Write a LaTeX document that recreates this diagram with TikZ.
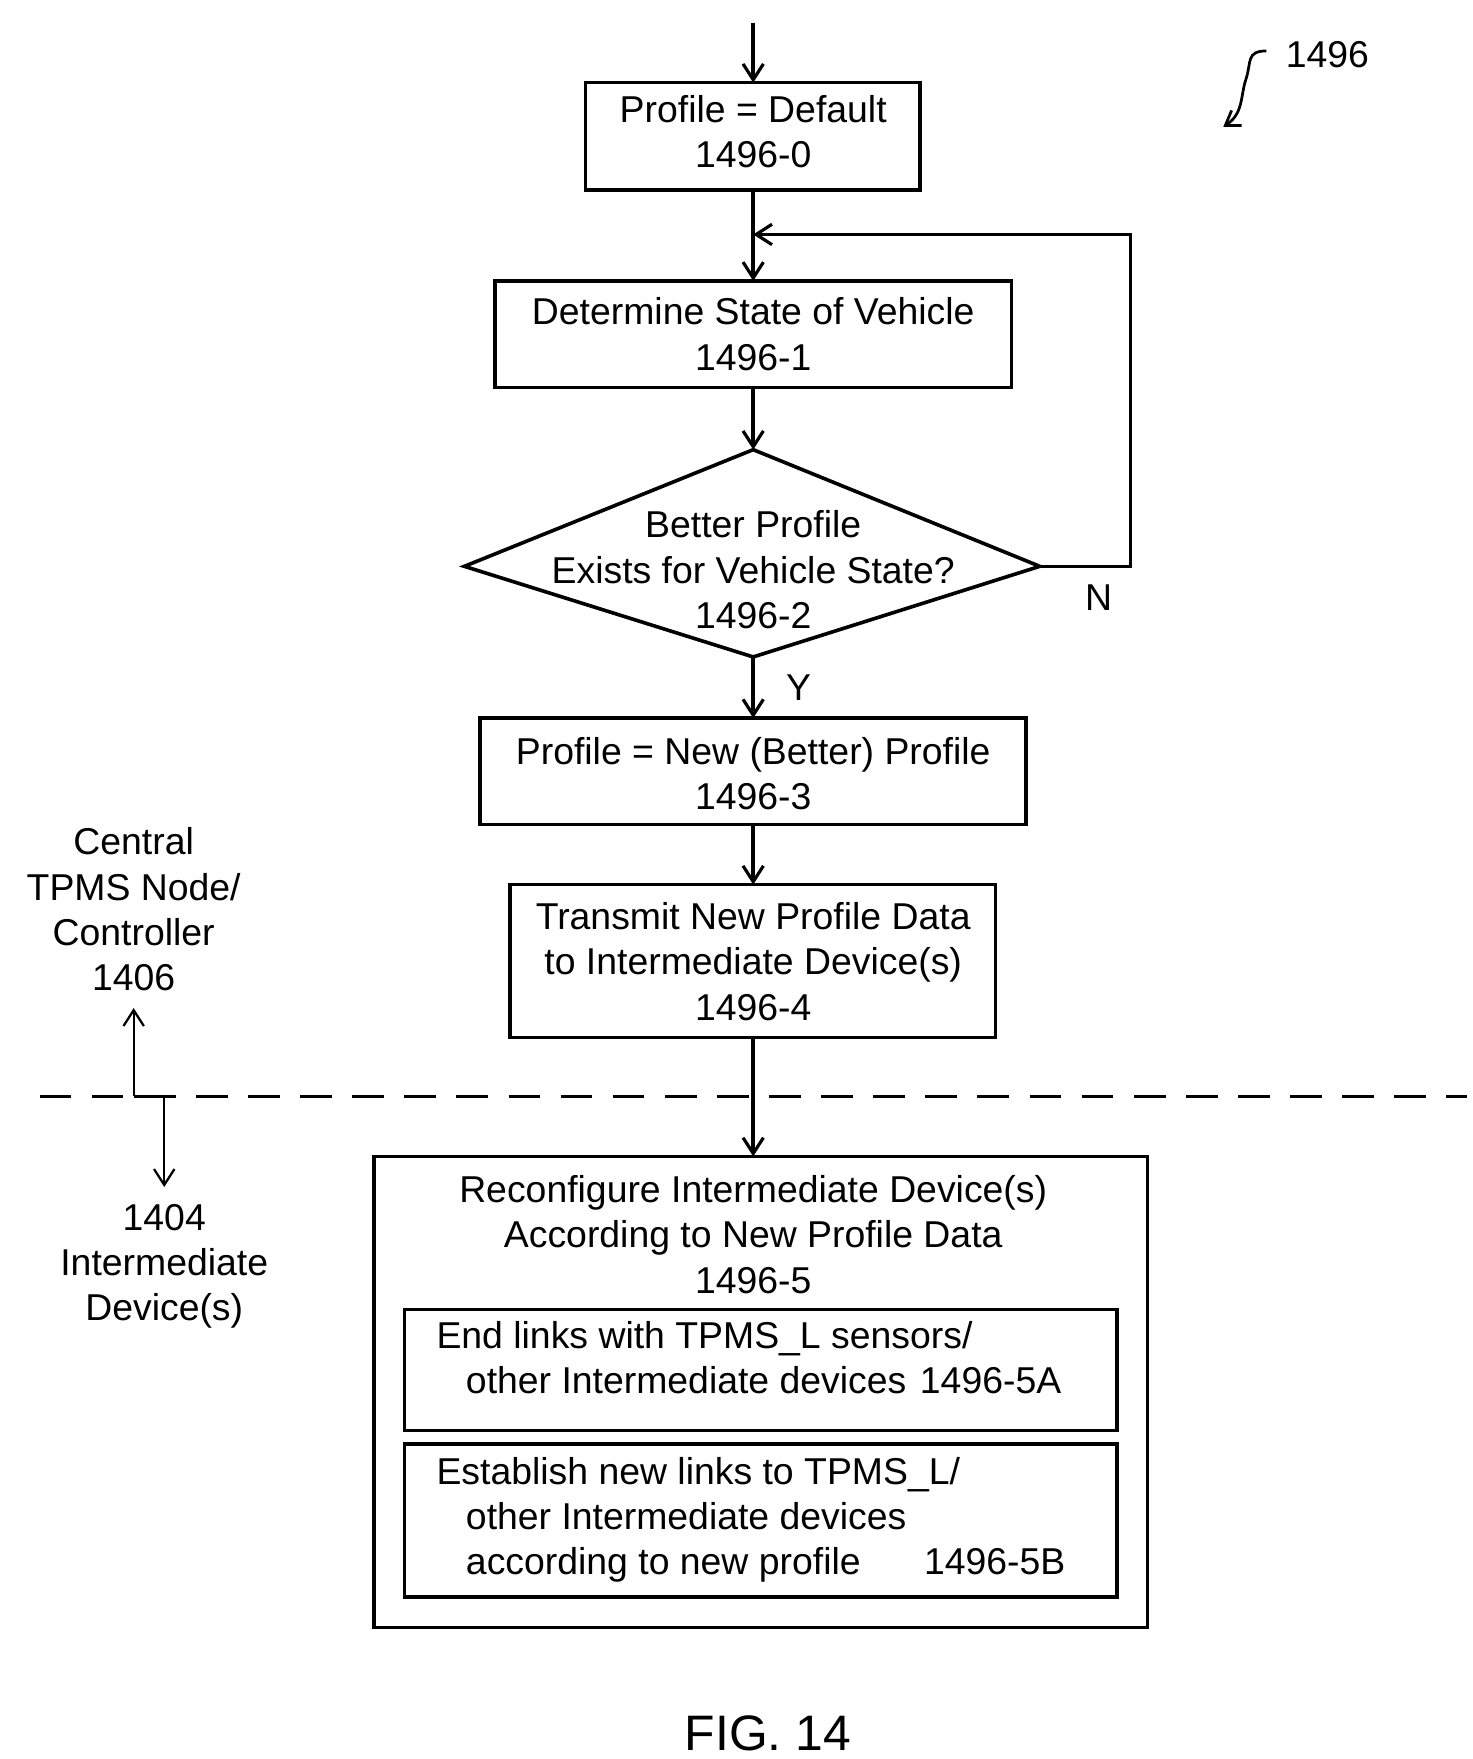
\documentclass[tikz,border=0pt]{standalone}
\usepackage{fontspec}
\setmainfont{Liberation Sans}
\usetikzlibrary{arrows.meta,shapes.geometric}
\begin{document}
\begin{tikzpicture}[x=0.5pt,y=-0.5pt,
  box/.style={draw,line width=1.6pt},
  ln/.style={line width=1.6pt},
  arr/.style={ln,-{Straight Barb[length=7pt,width=9pt,line width=1.4pt]}},
  txt/.style={font=\fontsize{16.5}{20}\selectfont,align=center,inner sep=0pt},
  ltxt/.style={font=\fontsize{16.5}{20}\selectfont,align=left,inner sep=0pt,anchor=north west}]
\useasboundingbox (0,0) rectangle (1300,1553);
\coordinate (top) at (665,20);
\draw[box] (517,73) rectangle (812,168); \node[txt] (b0) at (665,116) {Profile = Default\\1496-0};
\draw[box] (437,248) rectangle (893,342); \node[txt] (b1) at (665,295) {Determine State of Vehicle\\1496-1};
\draw[box] (665,397) -- (918,500) -- (665,580) -- (410,500) -- cycle;
\node[txt] (b2) at (665,503) {Better Profile\\Exists for Vehicle State?\\1496-2};
\draw[box] (424,634) rectangle (906,728); \node[txt] (b3) at (665,683) {Profile = New (Better) Profile\\1496-3};
\draw[box] (450,781) rectangle (879,916); \node[txt] (b4) at (665,849) {Transmit New Profile Data\\to Intermediate Device(s)\\1496-4};
\draw[box] (330,1021) rectangle (1013,1437); \node[txt] (b5) at (665,1090) {Reconfigure Intermediate Device(s)\\According to New Profile Data\\1496-5};
\draw[box] (357,1156) rectangle (986,1263);
\node[ltxt] (b5a) at (385,1166) {End links with TPMS\_L sensors/\\\hspace*{13pt}other Intermediate devices\hspace{6pt}1496-5A};
\draw[box] (357,1275) rectangle (986,1410);
\node[ltxt] (b5b) at (385,1286) {Establish new links to TPMS\_L/\\\hspace*{13pt}other Intermediate devices\\\hspace*{13pt}according to new profile\hspace{28pt}1496-5B};
\draw[arr] (top) -- (665,73);
\draw[arr] (665,168) -- (665,248);
\draw[arr] (665,342) -- (665,397);
\draw[arr] (665,580) -- (665,634);
\draw[arr] (665,728) -- (665,781);
\draw[arr] (665,916) -- (665,1021);
\draw[arr] (918,500) -- (998,500) -- (998,207) -- (665,207);
\node[txt] (n) at (970,528) {N};
\node[txt] (y) at (705,607) {Y};
\draw[ln,dash pattern=on 14pt off 9pt] (35,968) -- (1295,968);
\node[txt] (c) at (118,803) {Central\\TPMS Node/\\Controller\\1406};
\node[txt] (i) at (145,1118) {1404\\Intermediate\\Device(s)};
\draw[ln,-{Straight Barb[length=7pt,width=9pt,line width=1pt]},line width=1pt] (118,968) -- (118,890);
\draw[ln,-{Straight Barb[length=7pt,width=9pt,line width=1pt]},line width=1pt] (118,968) -- (145,968) -- (145,1048);
\node[txt] (l) at (1172,48) {1496};
\draw[line width=1.2pt,-{Straight Barb[length=6pt,width=8pt]}] (1118,45) .. controls (1100,45) and (1105,55) .. (1100,70) .. controls (1095,85) and (1098,100) .. (1080,112);
\node[font=\fontsize{22}{26}\selectfont,inner sep=0pt] (f) at (678,1530) {FIG. 14};
\end{tikzpicture}
\end{document}
